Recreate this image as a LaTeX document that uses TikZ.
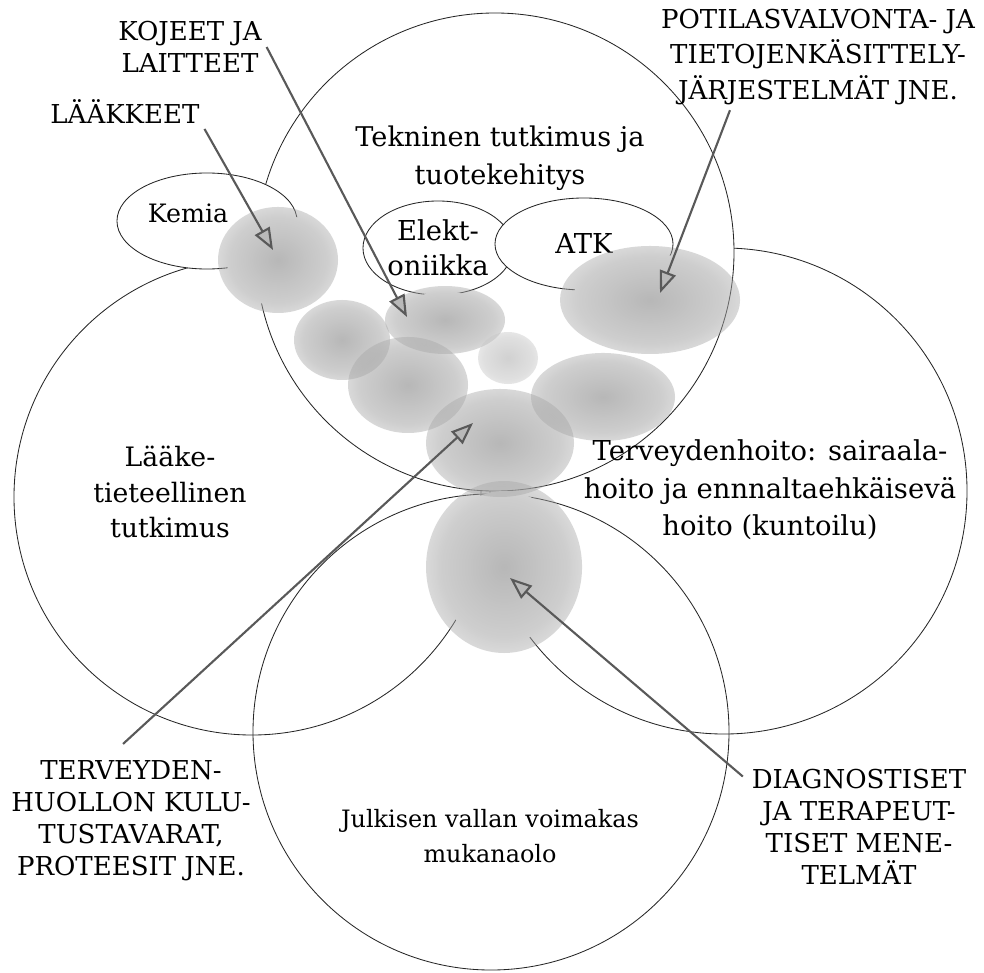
\documentclass[tikz,border=0pt]{standalone}
\usepackage{fontspec}
\setmainfont{DejaVu Serif}
\usetikzlibrary{shapes.geometric, arrows.meta, fadings}

% soft edge of the grey patches
\pgfdeclareradialshading{patchmask}{\pgfpointorigin}{%
    color(0bp)=(white!80!black); color(20bp)=(white!55!black);
    color(42bp)=(black); color(50bp)=(black)}
\pgfdeclarefading{patchfade}{\pgfuseshading{patchmask}}

\begin{document}
\begin{tikzpicture}[
    x=0.025cm, y=-0.025cm,
    >={Triangle[length=5.5mm, width=4.2mm, fill=gray!55]},
    ring/.style={
        draw=black!85,
        line width=0.6pt
    },
    bubble/.style={
        ellipse,
        draw=black!85,
        line width=0.6pt,
        fill=white,
        inner sep=0pt,
        align=center,
        font=\fontsize{19.5}{25}\selectfont
    },
    field/.style={
        align=center,
        font=\fontsize{19.3}{27}\selectfont
    },
    caps/.style={
        align=center,
        font=\fontsize{18.5}{22.7}\selectfont
    },
    patch/.style={
        fill=gray!70,
        path fading=patchfade
    },
    arrow/.style={
        ->,
        draw=black!65,
        line width=1.5pt
    }
]

\useasboundingbox (0,0) rectangle (984,972);

% Big circles
\draw[ring] (252,497) circle (238);
\draw[ring] (724,491) circle (243);
\draw[ring] (491,732) circle (238);
\filldraw[ring, fill=white] (495,252) circle (239);

% Small fields
\node[bubble, minimum width=4.5cm, minimum height=2.4cm] (E1) at (207,221) {};
\node[bubble, minimum width=3.75cm, minimum height=2.35cm] (E2) at (438,248) {Elekt-\\oniikka};
\node[bubble, minimum width=4.45cm, minimum height=2.3cm] (E3) at (584,244) {ATK};

% Grey patches
\fill[white] (278,260) ellipse (51 and 46) (342,340) ellipse (42 and 35)
    (408,385) ellipse (51 and 40) (445,320) ellipse (51 and 28)
    (650,300) ellipse (77 and 46) (603,397) ellipse (62 and 37)
    (500,443) ellipse (63 and 46) (504,567) ellipse (67 and 76)
    (508,358) ellipse (24 and 21);
\fill[patch] (278,260) ellipse (60 and 53);
\fill[patch] (342,340) ellipse (48 and 40);
\fill[patch] (408,385) ellipse (60 and 48);
\fill[patch] (445,320) ellipse (60 and 34);
\fill[patch] (650,300) ellipse (90 and 54);
\fill[patch] (603,397) ellipse (72 and 44);
\fill[patch] (500,443) ellipse (74 and 54);
\fill[patch] (504,567) ellipse (78 and 86);
\fill[patch, fill=gray!45] (508,358) ellipse (30 and 26);

% Texts of the circles
\node[field] (C1) at (500,158) {Tekninen tutkimus ja\\tuotekehitys};
\node[field, font=\fontsize{19}{25.5}\selectfont] (C2) at (170,492) {Lääke-\\tieteellinen\\tutkimus};
\node[field, font=\fontsize{19.5}{26.6}\selectfont] (C3) at (770,490) {Terveydenhoito: sairaala-\\hoito ja ennnaltaehkäisevä\\hoito (kuntoilu)};
\node[field, font=\fontsize{17}{25}\selectfont] (C4) at (490,836) {Julkisen vallan voimakas\\mukanaolo};
\node[field, font=\fontsize{18}{25}\selectfont] (T1) at (188,213) {Kemia};

% Labels
\node[caps] (L1) at (125,112) {LÄÄKKEET};
\node[caps] (L2) at (190,47) {KOJEET JA\\LAITTEET};
\node[caps, font=\fontsize{18.5}{25.5}\selectfont] (L3) at (818,57) {POTILASVALVONTA- JA\\TIETOJENKÄSITTELY-\\JÄRJESTELMÄT JNE.};
\node[caps] (L4) at (131,821) {TERVEYDEN-\\HUOLLON KULU-\\TUSTAVARAT,\\PROTEESIT JNE.};
\node[caps] (L5) at (859,827) {DIAGNOSTISET\\JA TERAPEUT-\\TISET MENE-\\TELMÄT};

% Arrow tips
\coordinate (A1) at (273,250);
\coordinate (A2) at (407,317);
\coordinate (A3) at (660,293);
\coordinate (A4) at (473,423);
\coordinate (A5) at (510,578);

% Arrows
\draw[arrow] (L1.south east) -- (A1);
\draw[arrow] (L2.east) -- (A2);
\draw[arrow] ([xshift=-2.2cm]L3.south) -- (A3);
\draw[arrow] ([xshift=-0.2cm, yshift=0.3cm]L4.north) -- (A4);
\draw[arrow] ([xshift=-0.1cm, yshift=-0.3cm]L5.north west) -- (A5);

\end{tikzpicture}
\end{document}
